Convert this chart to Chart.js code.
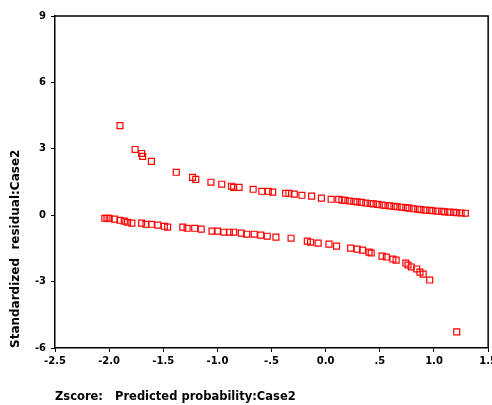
<!DOCTYPE html>
<html>
<head>
<meta charset="utf-8">
<script src="https://cdn.jsdelivr.net/npm/chart.js@4"></script>
<style>
  html, body { margin: 0; padding: 0; background: #fff; overflow: hidden; }
  #wrap { width: 492px; height: 405px; overflow: hidden; }
</style>
</head>
<body>
<div id="wrap"><canvas id="myChart" width="500" height="405"></canvas></div>
<script>
const ctx = document.getElementById('myChart');

// cases with outcome = 1 (upper branch)
const zUpper = [-1.90, -1.76, -1.70, -1.69, -1.61, -1.38, -1.23, -1.20, -1.06, -0.96,
  -0.87, -0.85, -0.80, -0.67, -0.59, -0.53, -0.49, -0.37, -0.34, -0.29,
  -0.22, -0.13, -0.04, 0.05, 0.12, 0.15, 0.18, 0.22, 0.26, 0.29,
  0.33, 0.37, 0.41, 0.44, 0.48, 0.52, 0.55, 0.59, 0.63, 0.66,
  0.70, 0.74, 0.77, 0.81, 0.85, 0.88, 0.92, 0.96, 0.99, 1.03,
  1.07, 1.10, 1.14, 1.18, 1.21, 1.25, 1.29];
const residUpper = [4.05, 2.97, 2.79, 2.66, 2.43, 1.94, 1.71, 1.62, 1.49, 1.40,
  1.31, 1.26, 1.26, 1.17, 1.08, 1.08, 1.04, 0.99, 0.99, 0.95,
  0.90, 0.86, 0.77, 0.72, 0.72, 0.68, 0.67, 0.64, 0.62, 0.60,
  0.58, 0.55, 0.53, 0.51, 0.49, 0.46, 0.44, 0.42, 0.40, 0.38,
  0.36, 0.34, 0.32, 0.29, 0.27, 0.25, 0.23, 0.22, 0.20, 0.18,
  0.17, 0.15, 0.14, 0.13, 0.11, 0.10, 0.09];

// cases with outcome = 0 (lower branch)
const zLower = [-2.04, -2.02, -2.00, -1.95, -1.90, -1.86, -1.83, -1.79, -1.70, -1.66,
  -1.61, -1.55, -1.49, -1.46, -1.32, -1.28, -1.21, -1.15, -1.05, -1.00,
  -0.94, -0.89, -0.85, -0.78, -0.73, -0.66, -0.60, -0.54, -0.46, -0.32,
  -0.17, -0.14, -0.07, 0.03, 0.10, 0.23, 0.29, 0.34, 0.40, 0.42,
  0.52, 0.56, 0.62, 0.65, 0.74, 0.76, 0.79, 0.84, 0.87, 0.90,
  0.96, 1.21];
const residLower = [-0.14, -0.14, -0.14, -0.18, -0.23, -0.27, -0.32, -0.36, -0.36, -0.41,
  -0.41, -0.45, -0.50, -0.54, -0.54, -0.59, -0.59, -0.63, -0.72, -0.72,
  -0.77, -0.77, -0.77, -0.81, -0.86, -0.86, -0.90, -0.95, -0.99, -1.04,
  -1.17, -1.22, -1.26, -1.31, -1.40, -1.49, -1.53, -1.58, -1.67, -1.71,
  -1.85, -1.89, -1.98, -2.03, -2.16, -2.25, -2.34, -2.43, -2.57, -2.66,
  -2.93, -5.27];

const xTicks = [-2.5, -2.0, -1.5, -1.0, -0.5, 0.0, 0.5, 1.0, 1.5];
const xTickLabels = ['-2.5', '-2.0', '-1.5', '-1.0', '-.5', '0.0', '.5', '1.0', '1.5'];
const yTicks = [-6, -3, 0, 3, 6, 9];

const points = [];
zUpper.forEach((z, i) => points.push({ x: z, y: residUpper[i] }));
zLower.forEach((z, i) => points.push({ x: z, y: residLower[i] }));

const tickFont = { family: 'DejaVu Sans', size: 10, weight: 'bold' };

// top and right edge of the plot frame
const frame = {
  id: 'frame',
  afterDraw(chart) {
    const a = chart.chartArea;
    const c = chart.ctx;
    c.save();
    c.strokeStyle = '#000';
    c.lineWidth = 1.5;
    c.beginPath();
    c.moveTo(a.left, a.top);
    c.lineTo(a.right, a.top);
    c.lineTo(a.right, a.bottom);
    c.stroke();
    c.restore();
  }
};

function draw()
{
  new Chart(ctx, {
    type: 'scatter',
    data: {
      datasets: [{
        data: points,
        pointStyle: 'rect',
        pointRadius: 4.2,
        pointHoverRadius: 4.2,
        borderColor: '#ff0000',
        backgroundColor: 'rgba(255,255,255,0)',
        borderWidth: 1.2
      }]
    },
    options: {
      responsive: false,
      animation: false,
      devicePixelRatio: 1,
      layout: { padding: { left: 0, top: 16, right: 11, bottom: 0 } },
      plugins: { legend: { display: false }, tooltip: { enabled: false } },
      scales: {
        x: {
          type: 'linear',
          min: -2.5,
          max: 1.5,
          afterFit: s => { s.height = 57; },
          afterBuildTicks: s => { s.ticks = xTicks.map(v => ({ value: v })); },
          ticks: {
            color: '#000',
            font: tickFont,
            padding: 3,
            maxRotation: 0,
            callback: (v) => xTickLabels[xTicks.findIndex(t => Math.abs(t - v) < 1e-9)]
          },
          grid: { display: true, drawOnChartArea: false, tickLength: 4, color: '#000', lineWidth: 1 },
          border: { display: true, color: '#000', width: 1.5 },
          title: {
            display: true,
            align: 'start',
            text: 'Zscore:   Predicted probability:Case2',
            color: '#000',
            font: { family: 'DejaVu Sans', size: 11.5, weight: 'bold' },
            padding: { top: 0, bottom: 1 }
          }
        },
        y: {
          type: 'linear',
          min: -6,
          max: 9,
          afterFit: s => { s.width = 55; },
          afterBuildTicks: s => { s.ticks = yTicks.map(v => ({ value: v })); },
          ticks: { color: '#000', font: tickFont, padding: 5 },
          grid: { display: true, drawOnChartArea: false, tickLength: 4, color: '#000', lineWidth: 1 },
          border: { display: true, color: '#000', width: 1.5 },
          title: {
            display: true,
            align: 'start',
            text: 'Standardized  residual:Case2',
            color: '#000',
            font: { family: 'DejaVu Sans', size: 12, weight: 'bold' },
            padding: { top: 9, bottom: 0 }
          }
        }
      }
    },
    plugins: [frame]
  });
}
draw();
</script>
</body>
</html>
